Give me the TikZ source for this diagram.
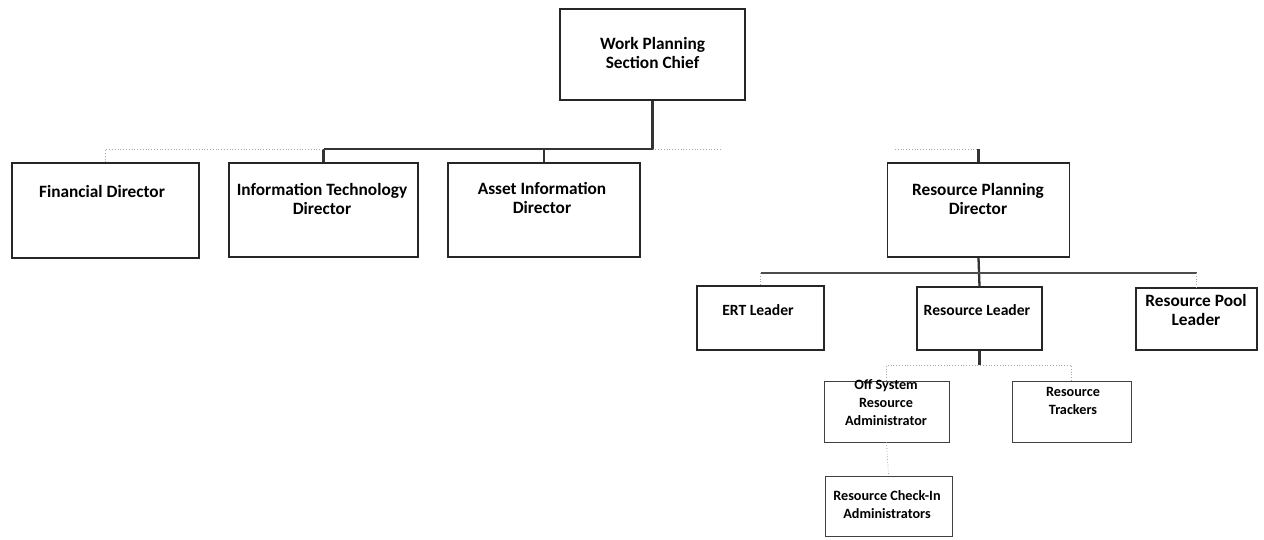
\documentclass[tikz,border=0pt]{standalone}
\usepackage{fontspec}
\setmainfont{Carlito}
\begin{document}
\begin{tikzpicture}[x=1pt,y=-1pt,
  topbox/.style={draw=black!85, line width=1.6pt, fill=white, inner sep=0pt},
  lowbox/.style={draw=black!75, line width=0.8pt, fill=white, inner sep=0pt},
  lbl/.style={font=\bfseries\fontsize{17.3}{19.5}\selectfont, align=center, inner sep=0pt},
  lbls/.style={font=\bfseries\fontsize{15.6}{19}\selectfont, align=center, inner sep=0pt},
  lblx/.style={font=\bfseries\fontsize{14.2}{18}\selectfont, align=center, inner sep=0pt},
  conn/.style={draw=black!80, line width=2.3pt},
  faint/.style={draw=black!35, line width=0.8pt, dotted}]
\useasboundingbox (0,0) rectangle (1264,539);

% boxes
\node[topbox, minimum width=185pt, minimum height=91pt] (chief) at (652.5,54.5) {};
\node[topbox, minimum width=187pt, minimum height=95pt] (fin) at (105.5,210.5) {};
\node[topbox, minimum width=189pt, minimum height=94pt] (itd) at (323.5,210) {};
\node[topbox, minimum width=192pt, minimum height=94pt] (aid) at (544,210) {};
\node[topbox, minimum width=182pt, minimum height=94pt] (rpd) at (978.5,210) {};
\node[topbox, minimum width=127pt, minimum height=64pt] (ert) at (760.5,318) {};
\node[topbox, minimum width=125pt, minimum height=63pt] (rl) at (979.5,318.5) {};
\node[topbox, minimum width=121pt, minimum height=62pt] (rpl) at (1196.5,319) {};
\node[lowbox, minimum width=125pt, minimum height=61pt] (osa) at (886.5,411.5) {};
\node[lowbox, minimum width=119pt, minimum height=61pt] (trk) at (1071.5,411.5) {};
\node[lowbox, minimum width=127pt, minimum height=60pt] (cia) at (888.5,506) {};

% labels
\node[lbl] (chiefT) at (652.5,53) {Work Planning\\Section Chief};
\node[lbl] (finT) at (102,191) {Financial Director};
\node[lbl] (itdT) at (322,199) {Information Technology\\Director};
\node[lbl] (aidT) at (542,198) {Asset Information\\Director};
\node[lbl] (rpdT) at (978,199) {Resource Planning\\Director};
\node[lbls] (ertT) at (758,310) {ERT Leader};
\node[lbls] (rlT) at (977,310) {Resource Leader};
\node[lbl] (rplT) at (1196,310) {Resource Pool\\Leader};
\node[lblx] (osaT) at (886,403) {Off System\\Resource\\Administrator};
\node[lblx] (trkT) at (1073,401) {Resource\\Trackers};
\node[lblx] (ciaT) at (887,505) {Resource Check-In\\Administrators};

% junction points of the bus lines
\coordinate (j0) at (652.5,149);
\coordinate (gapL) at (720,149);
\coordinate (gapR) at (895,149);
\coordinate (bus2) at (979.5,273);
\coordinate (bus3) at (979.5,365);

% top level
\draw[conn] (chief.south) -- (j0);
\draw[conn] (itd.north |- j0) -- (j0);
\draw[conn] (itd.north |- j0) -- (itd.north);
\draw[conn] (aid.north |- j0) -- (aid.north);
\draw[faint] (fin.north) -- (fin.north |- j0) -- (itd.north |- j0);
\draw[faint] (j0) -- (gapL);
\draw[faint] (gapR) -- (rpd.north |- j0);
\draw[conn] (rpd.north |- j0) -- (rpd.north);

% resource planning branch
\draw[conn] (rpd.south) -- (rl.north);
\draw[conn, line width=1.6pt, draw=black!70] (ert.north |- bus2) -- (rpl.north |- bus2);
\draw[faint] (ert.north |- bus2) -- (ert.north);
\draw[faint] (rpl.north |- bus2) -- (rpl.north);

% resource leader branch
\draw[conn] (rl.south) -- (bus3);
\draw[faint] (osa.north) -- (osa.north |- bus3) -- (trk.north |- bus3) -- (trk.north);
\draw[faint] (osa.south) -- (cia.north);
\end{tikzpicture}
\end{document}
